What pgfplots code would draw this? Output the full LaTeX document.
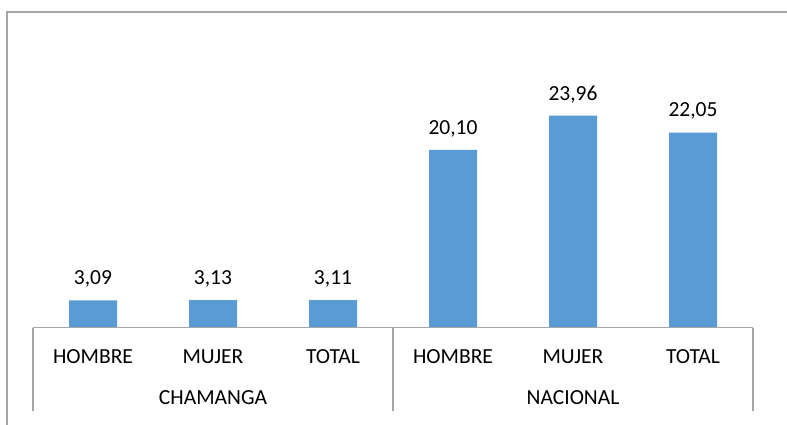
\documentclass[border=0pt]{standalone}
\usepackage{fontspec}
\setmainfont{Carlito}
\usepackage{pgfplots}
\pgfplotsset{compat=1.18}
\definecolor{barblue}{HTML}{5B9BD5}
\definecolor{rule}{HTML}{A6A6A6}
\newcommand{\lbl}{\fontsize{21.5bp}{26bp}\selectfont}
\begin{document}
\lbl
\begin{tikzpicture}
\begin{axis}[
  at={(0,0)}, anchor=south west,
  scale only axis, width=720bp, height=265.5bp,
  xmin=-0.5, xmax=5.5, ymin=0, ymax=30,
  axis x line*=bottom, axis y line=none,
  x axis line style={draw=none},
  xtick={0,1,2,3,4,5},
  xticklabels={HOMBRE,MUJER,TOTAL,HOMBRE,MUJER,TOTAL},
  xtick style={draw=none},
  xticklabel style={anchor=base, inner sep=0pt, yshift=-31.3bp, font=\lbl},
  ybar, bar width=48bp,
  nodes near coords,
  every node near coord/.append style={anchor=base, inner sep=0pt, yshift=15.6bp, font=\lbl},
  /pgf/number format/.cd, use comma, fixed, fixed zerofill, precision=2, assume math mode=true,
  /pgfplots/.cd,
  clip=false,
]
\addplot[fill=barblue, draw=none] coordinates {(0,3.09) (1,3.13) (2,3.11) (3,20.10) (4,23.96) (5,22.05)};
% category axis with group separators
\draw[rule, line width=1.2bp] (axis cs:-0.5,0) -- (axis cs:5.5,0);
\draw[rule, line width=1.2bp] (axis cs:-0.5,0) -- (axis cs:-0.5,-9.38);
\draw[rule, line width=1.2bp] (axis cs:2.5,0) -- (axis cs:2.5,-9.38);
\draw[rule, line width=1.2bp] (axis cs:5.5,0) -- (axis cs:5.5,-9.38);
\node[anchor=base, inner sep=0pt] at (axis cs:1,-8.7) {CHAMANGA};
\node[anchor=base, inner sep=0pt] at (axis cs:4,-8.7) {NACIONAL};
\end{axis}
\draw[rule, line width=1.5bp] (-26bp,-97.3bp) -- (-26bp,315.7bp) -- (754bp,315.7bp);
\pgfresetboundingbox
\path[use as bounding box] (-33bp,-97.3bp) rectangle (754bp,327.7bp);
\end{tikzpicture}
\end{document}
